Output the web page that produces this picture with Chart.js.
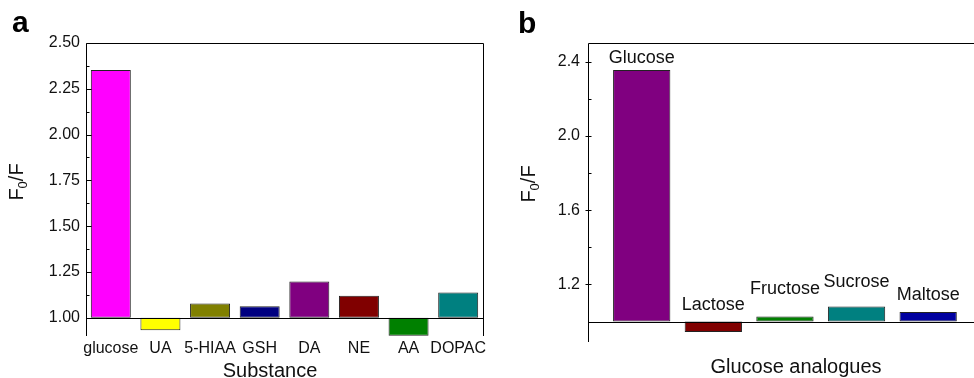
<!DOCTYPE html>
<html>
<head>
<meta charset="utf-8">
<script src="https://cdn.jsdelivr.net/npm/chart.js@4.4.0/dist/chart.umd.min.js"></script>
<style>
  body { margin: 0; background: #fff; }
  #wrap { position: relative; width: 974px; height: 378px; overflow: hidden; }
  .panel { position: absolute; top: 0; height: 378px; }
  #boxA { left: 0; width: 490px; }
  #boxB { left: 490px; width: 484px; }
</style>
</head>
<body>
<div id="wrap">
  <div class="panel" id="boxA"><canvas id="chartA"></canvas></div>
  <div class="panel" id="boxB"><canvas id="chartB"></canvas></div>
</div>
<script>
// panel a: interfering substances
var substances = ['glucose', 'UA', '5-HIAA', 'GSH', 'DA', 'NE', 'AA', 'DOPAC'];
var substanceRatio = [2.353, 0.931, 1.077, 1.062, 1.198, 1.12, 0.902, 1.138];
var substanceColors = ['#ff00ff', '#ffff00', '#808000', '#000080', '#800080', '#800000', '#008000', '#008080'];
var yTicksA = [1.00, 1.25, 1.50, 1.75, 2.00, 2.25, 2.50];
var yMinorA = [1.125, 1.375, 1.625, 1.875, 2.125, 2.375];

// panel b: glucose analogues
var analogues = ['Glucose', 'Lactose', 'Fructose', 'Sucrose', 'Maltose'];
var analogueRatio = [2.355, 0.944, 1.027, 1.081, 1.051];
var analogueColors = ['#800080', '#800000', '#008000', '#008080', '#0000a0'];
var yTicksB = [1.2, 1.6, 2.0, 2.4];
var yMinorB = [1.0, 1.4, 1.8, 2.2];

var baseValue = 1.0;
var labelLift = [7, 12, 23, 20, 12]; // px gap between bar label and bar

var FONT = "'Liberation Sans', Arial, sans-serif";
var INK = '#111';

Chart.defaults.font.family = FONT;
Chart.defaults.color = INK;
Chart.defaults.animation = false;

function crisp(v) { return Math.round(v) + 0.5; }

// frame, ticks, baseline and titles drawn on top of the library's scales
function framePlugin(cfg) {
	return {
		id: 'frame',
		afterDatasetsDraw: function (chart) {
			var ctx = chart.ctx;
			var a = chart.chartArea;
			var ys = chart.scales.y;
			var L = crisp(a.left), T = crisp(a.top), R = crisp(a.right), B = a.bottom;
			ctx.save();
			ctx.strokeStyle = '#000';
			ctx.lineWidth = 1;
			ctx.beginPath();
			ctx.moveTo(L, T); ctx.lineTo(R, T);
			ctx.moveTo(L, T); ctx.lineTo(L, B);
			if (cfg.rightBorder) { ctx.moveTo(R, T); ctx.lineTo(R, B); }
			var yb = crisp(ys.getPixelForValue(baseValue));
			ctx.moveTo(L, yb); ctx.lineTo(a.right, yb);
			ys.ticks.forEach(function (t) {
				var y = crisp(ys.getPixelForValue(t.value));
				ctx.moveTo(L - cfg.majorOut, y); ctx.lineTo(L + cfg.majorIn, y);
			});
			cfg.minor.forEach(function (v) {
				var y = crisp(ys.getPixelForValue(v));
				ctx.moveTo(L, y); ctx.lineTo(L + cfg.minorIn, y);
			});
			ctx.stroke();

			ctx.fillStyle = INK;
			// x title
			ctx.font = '20px ' + FONT;
			ctx.textAlign = 'center';
			ctx.textBaseline = 'alphabetic';
			ctx.fillText(cfg.xTitle, cfg.xTitleX, cfg.xTitleY);

			// y title F0/F with subscript
			ctx.save();
			ctx.translate(cfg.yTitleX, cfg.yTitleY);
			ctx.rotate(-Math.PI / 2);
			ctx.font = '20px ' + FONT;
			var w1 = ctx.measureText('F').width;
			var w3 = ctx.measureText('/F').width;
			ctx.font = '13px ' + FONT;
			var w2 = ctx.measureText('0').width;
			var x0 = -(w1 + w2 + w3) / 2;
			ctx.textAlign = 'left';
			ctx.font = '20px ' + FONT;
			ctx.fillText('F', x0, 7);
			ctx.font = '13px ' + FONT;
			ctx.fillText('0', x0 + w1, 11);
			ctx.font = '20px ' + FONT;
			ctx.fillText('/F', x0 + w1 + w2, 7);
			ctx.restore();

			// panel letter
			ctx.font = 'bold 30px ' + FONT;
			ctx.textAlign = 'left';
			ctx.fillStyle = '#000';
			ctx.fillText(cfg.letter, cfg.letterX, cfg.letterY);

			// labels above bars
			if (cfg.barLabels) {
				var meta = chart.getDatasetMeta(0);
				ctx.font = '18px ' + FONT;
				ctx.textAlign = 'center';
				ctx.fillStyle = INK;
				cfg.barLabels.forEach(function (txt, i) {
					var top = Math.max(cfg.values[i], baseValue);
					ctx.fillText(txt, meta.data[i].x, ys.getPixelForValue(top) - labelLift[i]);
				});
			}
			ctx.restore();
		}
	};
}

var chartA = new Chart(document.getElementById('chartA'), {
	type: 'bar',
	data: {
		labels: substances,
		datasets: [{
			data: substanceRatio.map(function (v) { return [baseValue, v]; }),
			backgroundColor: substanceColors,
			borderColor: '#222',
			borderWidth: 1,
			borderSkipped: false,
			categoryPercentage: 1,
			barPercentage: 0.806
		}]
	},
	options: {
		responsive: true,
		maintainAspectRatio: false,
		layout: { padding: { top: 43, right: 7, left: 0, bottom: 0 } },
		plugins: { legend: { display: false }, tooltip: { enabled: false } },
		scales: {
			x: {
				grid: { display: false, drawTicks: false },
				border: { display: false },
				ticks: { font: { size: 16 }, padding: 3, maxRotation: 0, autoSkip: false },
				afterFit: function (s) { s.height = 42; }
			},
			y: {
				min: 0.9,
				max: 2.5,
				grid: { display: false, drawTicks: false },
				border: { display: false },
				ticks: { font: { size: 16 }, padding: 6, callback: function (v) { return v.toFixed(2); } },
				afterBuildTicks: function (s) { s.ticks = yTicksA.map(function (v) { return { value: v }; }); },
				afterFit: function (s) { s.width = 86; }
			}
		}
	},
	plugins: [framePlugin({
		rightBorder: true, majorIn: 5, majorOut: 0, minorIn: 3, minor: yMinorA,
		xTitle: 'Substance', xTitleX: 270, xTitleY: 377,
		yTitleX: 16, yTitleY: 182,
		letter: 'a', letterX: 12, letterY: 32
	})]
});

var chartB = new Chart(document.getElementById('chartB'), {
	type: 'bar',
	data: {
		datasets: [{
			data: analogueRatio.map(function (v, i) { return { x: i + 1, y: [baseValue, v] }; }),
			backgroundColor: analogueColors,
			borderColor: '#222',
			borderWidth: 1,
			borderSkipped: false,
			categoryPercentage: 1,
			barPercentage: 0.8
		}]
	},
	options: {
		responsive: true,
		maintainAspectRatio: false,
		layout: { padding: { top: 43, right: 0, left: 0, bottom: 36 } },
		plugins: { legend: { display: false }, tooltip: { enabled: false } },
		scales: {
			x: {
				type: 'linear', min: 0.25, max: 5.64, display: false, offset: false,
				// one tick per bar so the bar width follows the bar spacing
				afterBuildTicks: function (s) { s.ticks = analogues.map(function (n, i) { return { value: i + 1 }; }); }
			},
			y: {
				min: 0.89,
				max: 2.5,
				grid: { display: false, drawTicks: false },
				border: { display: false },
				ticks: { font: { size: 16 }, padding: 8, callback: function (v) { return v.toFixed(1); } },
				afterBuildTicks: function (s) { s.ticks = yTicksB.map(function (v) { return { value: v }; }); },
				afterFit: function (s) { s.width = 98; }
			}
		}
	},
	plugins: [framePlugin({
		rightBorder: false, majorIn: 3, majorOut: 3, minorIn: 3, minor: yMinorB,
		xTitle: 'Glucose analogues', xTitleX: 306, xTitleY: 373,
		yTitleX: 38, yTitleY: 184,
		letter: 'b', letterX: 28, letterY: 33,
		barLabels: analogues, values: analogueRatio
	})]
});
</script>
</body>
</html>
